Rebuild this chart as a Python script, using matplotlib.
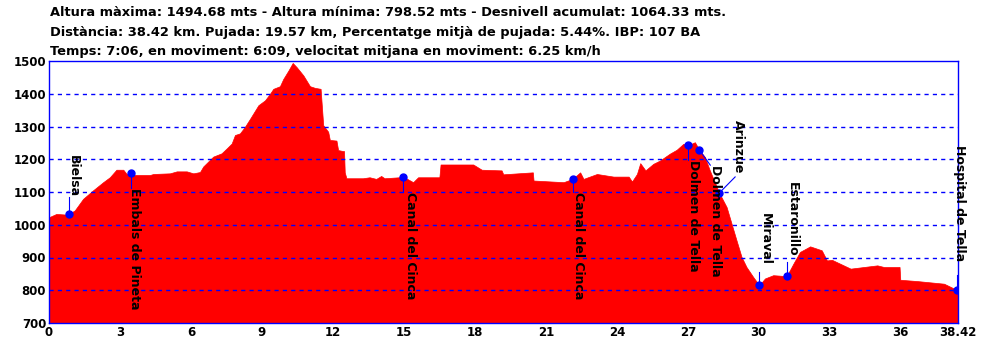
import numpy as np
import matplotlib.pyplot as plt

# perfil: distancia (km) i altura (m)
dist = [0.00, 0.31, 0.73, 0.85, 1.09, 1.44, 1.86, 2.29, 2.57, 2.85, 3.14, 3.28, 3.45,
        3.56, 4.27, 4.41, 5.11, 5.40, 5.82, 6.10, 6.38, 6.52, 6.66, 6.94, 7.29, 7.51,
        7.72, 7.86, 8.07, 8.28, 8.50, 8.85, 9.13, 9.34, 9.48, 9.76, 9.90, 10.12, 10.30,
        10.47, 10.75, 11.03, 11.24, 11.48, 11.59, 11.80, 11.87, 12.15, 12.22, 12.43,
        12.47, 12.50, 12.57, 13.27, 13.55, 13.83, 14.04, 14.18, 14.81, 14.97, 15.39, 15.60,
        16.50, 16.55, 17.93, 18.29, 19.13, 19.20, 20.45, 20.48, 21.75, 22.13, 22.45,
        22.59, 23.16, 23.86, 24.50, 24.64, 24.85, 24.99, 25.21, 25.54, 25.82, 26.24,
        26.53, 26.81, 27.02, 27.30, 27.48, 27.72, 27.93, 28.33, 28.64, 28.85, 29.06,
        29.27, 29.48, 29.76, 30.02, 30.26, 30.61, 31.18, 31.46, 31.74, 32.17, 32.66,
        32.88, 33.09, 33.44, 33.88, 35.01, 35.29, 35.95, 35.98, 36.70, 37.83, 38.40,
        38.42]
alt = [1023, 1033, 1031, 1033, 1044, 1079, 1105, 1130, 1145, 1168, 1168, 1155, 1157,
       1152, 1152, 1155, 1157, 1163, 1163, 1157, 1161, 1178, 1188, 1208, 1218, 1233,
       1248, 1274, 1279, 1299, 1324, 1365, 1380, 1400, 1415, 1423, 1445, 1471, 1494,
       1481, 1456, 1423, 1418, 1415, 1304, 1284, 1259, 1257, 1228, 1225,
       1225, 1160, 1142, 1142, 1145, 1140, 1149, 1142, 1145, 1147, 1130, 1145,
       1145, 1184, 1184, 1168, 1166, 1154, 1160, 1135, 1130, 1140, 1160,
       1140, 1155, 1147, 1147, 1132, 1155, 1188, 1166, 1186, 1196, 1217,
       1229, 1247, 1243, 1252, 1229, 1207, 1166, 1097, 1054, 1003, 952,
       902, 871, 841, 815, 836, 846, 843, 881, 917, 934, 922,
       891, 893, 881, 866, 876, 871, 871, 832, 828, 820, 800,
       798.52]

# punts de pas
wp_names = ["Bielsa", "Embals de Pineta", "Canal del Cinca", "Canal del Cinca",
            "Dolmen de Tella", "Dolmen de Tella", "Arinzue", "Miraval",
            "Estaronillo", "Hospital de Tella"]
wp_dist = [0.85, 3.45, 14.97, 22.13, 27.02, 27.48, 28.33, 30.02, 31.18, 38.38]
wp_alt = [1033, 1157, 1147, 1140, 1243, 1229, 1097, 815, 843, 800]

# posicio del text (x, dalt del text) i final de la linia
lab_pos = [(1.01, 1213), (3.63, 1112), (15.26, 1100), (22.36, 1100), (27.22, 1198),
           (28.19, 1182), (29.16, 1320), (30.26, 1036), (31.40, 1131), (38.50, 1243)]
line_end = [(0.85, 1085), (3.45, 1112), (14.97, 1100), (22.13, 1100), (27.02, 1198),
            (27.95, 1182), (29.0, 1146), (30.02, 856), (31.18, 886), (38.38, 847)]

header = ["Altura màxima: 1494.68 mts - Altura mínima: 798.52 mts - Desnivell acumulat: 1064.33 mts.",
          "Distància: 38.42 km. Pujada: 19.57 km, Percentatge mitjà de pujada: 5.44%. IBP: 107 BA",
          "Temps: 7:06, en moviment: 6:09, velocitat mitjana en moviment: 6.25 km/h"]

xticks = [0, 3, 6, 9, 12, 15, 18, 21, 24, 27, 30, 33, 36, 38.42]
xticklabels = ["0", "3", "6", "9", "12", "15", "18", "21", "24", "27", "30", "33", "36", "38.42"]
yticks = [700, 800, 900, 1000, 1100, 1200, 1300, 1400, 1500]

fig = plt.figure(figsize=(9.82, 3.40), dpi=100)
ax = fig.add_axes([49/982, 17/340, 909/982, 262/340])

ax.fill_between(dist, 700, alt, color="#ff0000", linewidth=0.5, edgecolor="#ff0000")
for y in yticks[1:-1]:
    ax.axhline(y, color="blue", linestyle=(0, (3, 3)), linewidth=1, zorder=2)

for name, d, a, (tx, ty), (lx, ly) in zip(wp_names, wp_dist, wp_alt, lab_pos, line_end):
    ax.plot([d, lx], [a, ly], color="blue", linewidth=0.8, zorder=3)
    ax.plot(d, a, "o", color="blue", markersize=5, zorder=4)
    ax.text(tx, ty, name, rotation=270, ha="center", va="top",
            fontsize=9, fontweight="bold", color="black", zorder=5)

ax.set_xlim(0, 38.42)
ax.set_ylim(700, 1500)
ax.set_xticks(xticks)
ax.set_xticklabels(xticklabels)
ax.set_yticks(yticks)
ax.tick_params(length=0, pad=2, labelsize=8.5)
for lab in ax.get_xticklabels() + ax.get_yticklabels():
    lab.set_fontweight("bold")
for sp in ax.spines.values():
    sp.set_color("blue")
    sp.set_linewidth(1)

for i, line in enumerate(header):
    fig.text(50/982, 1 - (13 + 19.5*i)/340, line, fontsize=9.4, fontweight="bold",
             va="center", ha="left")

fig.savefig("out.png", dpi=100)
